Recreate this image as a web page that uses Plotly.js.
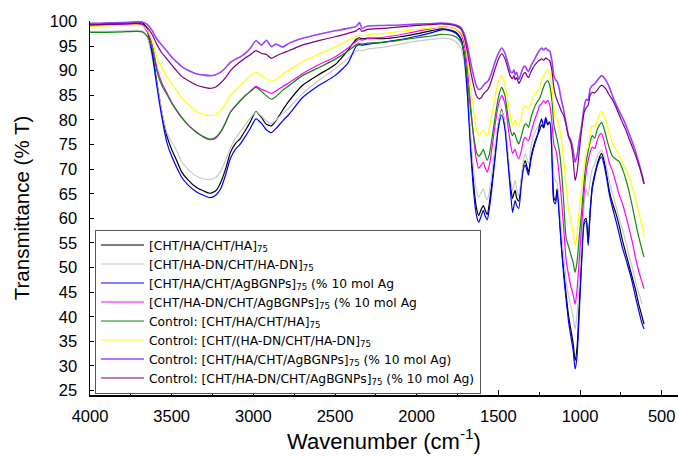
<!DOCTYPE html>
<html>
<head>
<meta charset="utf-8">
<script src="https://cdn.plot.ly/plotly-3.0.1.min.js"></script>
<style>html,body{margin:0;padding:0;background:#fff;}#chart{width:678px;height:456px;}</style>
</head>
<body>
<div id="chart"></div>
<script>
const wavenumber = [4000,3900,3800,3720,3680,3650,3620,3590,3560,3530,3500,3470,3440,3400,3350,3300,3266,3230,3200,3170,3140,3110,3080,3050,3020,2984,2950,2920,2890,2860,2820,2780,2700,2600,2500,2420,2370,2350,2335,2300,2200,2100,2000,1900,1850,1800,1760,1730,1710,1690,1670,1650,1635,1620,1605,1592,1580,1568,1555,1540,1520,1500,1480,1460,1440,1425,1413,1405,1397,1388,1375,1360,1345,1335,1325,1315,1300,1280,1260,1248,1235,1222,1210,1198,1185,1172,1160,1150,1140,1128,1115,1100,1085,1070,1055,1042,1030,1018,1005,990,975,962,950,938,925,910,895,880,868,855,840,820,800,780,760,740,720,700,680,660,640,620,608];

const chtHa = [99.6,99.6,99.7,99.9,99.8,98.5,94.0,87.5,81.5,76.8,74.0,71.8,69.5,67.8,66.3,65.5,65.1,65.6,67.3,70.0,73.4,75.2,76.2,77.8,79.5,81.7,80.5,79.1,78.8,79.9,82.0,83.9,87.0,89.2,91.2,94.2,96.4,96.7,96.5,96.6,96.5,96.9,97.5,98.2,98.5,98.3,97.8,96.6,93.8,86.5,75.5,66.5,62.3,60.6,61.8,62.6,61.6,60.8,63.0,67.0,73.0,79.0,82.1,79.0,72.0,66.5,64.0,65.0,65.7,64.2,63.5,67.5,71.0,71.7,70.5,69.4,72.5,75.1,77.0,77.8,79.0,78.4,80.0,79.0,79.6,73.5,64.2,63.6,66.0,61.5,55.0,49.5,44.5,40.2,37.2,34.6,31.1,33.8,42.0,52.0,59.5,60.0,55.1,61.5,66.5,69.0,71.0,72.5,73.2,72.0,69.5,65.5,63.0,61.0,58.5,55.5,53.0,50.5,48.0,45.5,42.5,40.0,38.5];

const chtHaDn = [98.0,98.0,98.1,98.2,98.1,96.8,92.8,87.2,81.8,77.5,75.5,73.8,71.6,70.0,68.6,68.0,67.9,68.3,69.6,71.8,74.3,76.2,77.6,79.0,80.3,81.6,80.8,79.8,79.3,80.0,81.3,82.5,85.3,88.0,90.4,92.5,94.0,94.2,94.1,94.4,94.8,95.4,96.0,96.4,96.6,96.5,95.9,94.6,92.0,85.5,76.8,69.5,65.8,64.3,65.3,66.0,64.5,63.8,65.5,69.0,74.5,79.5,81.9,79.5,73.0,68.0,65.6,66.6,67.7,66.0,64.6,68.0,72.0,73.1,72.0,71.1,74.5,77.2,78.5,79.0,79.8,79.5,80.3,79.8,79.6,75.0,68.8,67.7,67.2,63.0,58.0,52.5,47.5,44.2,42.0,40.0,37.5,40.5,47.0,55.0,62.5,66.0,64.5,67.5,70.0,71.0,72.5,73.5,73.8,73.0,71.0,67.5,65.0,62.5,60.0,57.8,55.2,52.5,50.0,47.2,44.8,42.6];

const chtHaAg = [99.3,99.3,99.4,99.5,99.4,98.0,93.5,86.7,80.5,75.5,72.6,70.4,68.4,66.8,65.4,64.6,64.2,64.7,66.0,68.8,72.2,74.0,75.1,76.6,78.2,80.2,79.3,78.0,77.4,78.3,79.8,81.2,84.5,87.0,89.0,91.6,95.0,95.3,95.2,95.4,95.8,96.3,97.0,97.8,98.3,98.2,97.6,96.4,93.2,85.5,74.0,65.0,60.8,59.2,60.5,61.6,60.4,59.7,62.0,66.0,72.2,78.2,81.0,78.2,71.0,65.2,61.2,62.5,63.6,62.6,62.0,66.5,70.2,70.8,69.8,68.8,72.0,74.8,76.8,78.9,80.2,78.5,80.5,79.2,79.5,73.0,63.3,63.0,65.8,61.0,54.5,48.5,43.5,39.0,35.8,33.2,29.4,32.0,40.5,51.0,58.8,59.5,54.5,61.0,66.0,68.5,70.6,72.0,72.5,71.2,68.8,64.8,62.0,59.5,56.8,54.0,51.8,49.5,47.0,44.0,41.2,38.6,37.5];

const chtHaDnAg = [99.1,99.2,99.3,99.4,99.2,98.0,95.5,90.5,87.5,85.5,83.6,82.0,80.6,79.0,77.6,76.4,76.0,76.3,77.5,79.5,81.6,82.8,83.9,84.9,85.8,86.8,86.2,85.8,85.4,85.9,86.8,87.6,89.4,91.2,92.8,94.6,96.0,96.4,96.2,96.5,96.8,97.3,98.0,98.6,98.9,98.8,98.4,97.5,95.6,90.5,83.0,76.0,72.0,70.2,70.8,71.4,70.2,69.4,70.8,74.0,79.0,83.0,85.0,83.4,78.5,75.0,73.2,73.6,74.0,72.9,72.1,73.6,76.0,76.5,76.0,75.8,77.5,79.8,81.6,82.9,83.3,83.9,83.4,83.9,83.0,79.5,75.0,74.1,72.5,69.0,64.5,58.0,51.5,48.5,46.0,44.5,42.5,45.5,51.5,58.5,65.0,69.5,71.8,73.4,74.5,74.2,75.8,77.0,77.2,76.0,74.0,71.2,69.5,67.2,64.8,63.0,60.6,58.0,55.2,52.0,49.2,47.0,45.7];

const ctrlChtHa = [97.8,97.8,97.9,98.0,97.9,97.0,94.8,89.8,87.0,85.2,83.4,81.9,80.5,79.0,77.5,76.5,76.1,76.5,77.6,79.4,81.6,82.8,83.9,84.9,85.7,86.6,85.8,84.9,84.2,84.8,86.0,87.0,89.0,90.6,92.3,94.0,95.3,95.5,95.4,95.6,95.8,96.2,96.7,97.1,97.4,97.3,96.9,95.9,93.8,88.5,82.0,76.5,73.6,72.6,73.2,74.0,72.8,71.8,73.0,76.0,80.5,84.5,86.6,85.0,80.5,77.8,76.8,77.4,77.0,76.0,75.1,76.6,78.5,79.2,79.0,78.5,80.5,82.5,83.8,84.3,85.5,86.8,87.6,88.0,87.0,84.0,79.0,77.5,76.0,74.0,70.2,63.5,56.0,54.3,52.5,51.0,49.0,51.2,56.0,61.5,67.5,71.4,73.6,75.5,76.8,76.3,78.0,79.0,79.5,78.5,76.6,74.2,72.6,72.0,71.5,70.0,68.0,65.5,62.5,59.2,56.2,53.6,52.1];

const ctrlChtHaDn = [99.0,99.1,99.2,99.3,99.2,98.3,96.2,92.8,90.5,88.8,87.3,86.0,84.5,83.2,81.7,81.1,80.9,81.1,81.9,83.3,85.0,86.0,87.0,88.0,88.9,89.7,89.0,88.3,87.8,88.3,89.3,90.1,91.8,93.4,94.8,96.2,97.0,97.2,97.1,97.3,97.6,98.0,98.4,98.7,98.9,98.8,98.4,97.8,96.5,93.0,87.0,81.5,78.2,76.9,77.4,77.9,77.2,76.9,78.3,81.0,84.8,87.8,89.0,87.4,83.5,80.6,79.0,79.4,80.0,79.2,78.7,80.5,82.5,82.9,82.5,82.3,83.5,85.0,86.0,86.6,88.0,89.0,89.7,90.3,89.6,87.0,82.5,80.5,80.2,78.8,76.2,72.0,66.5,61.8,59.4,57.0,54.5,56.8,61.5,66.0,70.5,73.6,74.5,77.2,78.9,78.6,80.0,81.2,81.8,81.0,79.6,77.2,75.2,74.0,72.8,71.4,70.0,68.4,66.4,64.0,61.2,58.3,56.2];

const ctrlChtHaAg = [99.6,99.7,99.8,99.9,99.9,99.4,98.2,96.4,95.2,94.0,92.8,91.8,90.9,90.1,89.4,89.1,89.0,89.2,89.7,90.6,91.7,92.3,92.8,93.5,94.5,96.1,95.2,96.2,94.9,95.4,94.8,95.6,96.6,97.4,98.1,98.6,99.0,99.8,98.6,99.1,99.2,99.3,99.5,99.6,99.7,99.6,99.3,98.8,97.6,95.2,91.8,88.8,87.0,86.2,86.4,87.0,87.5,87.7,88.4,89.7,91.8,93.5,94.6,93.6,91.4,89.8,89.6,90.2,89.2,89.7,88.2,89.5,90.8,90.9,90.2,89.8,91.0,92.2,93.5,94.1,94.6,94.2,94.6,94.2,94.0,92.0,89.0,88.2,87.8,86.5,84.2,82.0,79.2,76.8,75.8,73.8,71.4,72.8,75.8,78.8,82.5,84.2,84.0,86.3,87.0,87.3,88.0,88.6,89.0,88.7,88.0,86.6,84.8,83.2,81.8,80.5,79.0,77.3,75.5,73.6,71.3,68.8,67.0];

const ctrlChtHaDnAg = [99.3,99.4,99.5,99.6,99.5,98.8,97.4,95.3,93.6,92.4,91.2,90.0,88.9,88.0,87.1,86.6,86.4,86.7,87.5,88.6,90.0,91.0,91.8,92.6,93.2,94.1,93.5,93.3,92.5,93.0,93.6,94.1,95.2,96.1,96.9,97.6,98.1,98.6,98.0,98.4,98.6,98.9,99.2,99.4,99.5,99.4,99.1,98.5,97.0,94.0,90.0,86.8,85.0,84.3,84.5,85.2,85.7,86.0,86.8,88.2,90.4,92.3,93.4,92.5,90.3,88.8,88.4,89.0,88.2,88.6,87.4,88.3,89.4,89.6,89.0,88.6,89.8,91.0,91.8,92.1,92.4,92.1,92.6,92.3,92.0,90.0,86.5,85.0,84.0,83.0,81.8,80.9,79.0,76.5,75.2,72.0,67.7,69.5,73.5,78.0,81.5,82.5,83.0,85.0,85.6,85.5,86.0,86.7,87.0,86.8,86.2,85.0,84.0,82.6,81.0,79.5,78.0,76.2,74.5,72.8,70.8,68.6,67.0];

const seriesNames = [
  "[CHT/HA/CHT/HA]<sub>75</sub>",
  "[CHT/HA-DN/CHT/HA-DN]<sub>75</sub>",
  "[CHT/HA/CHT/AgBGNPs]<sub>75</sub> (% 10 mol Ag",
  "[CHT/HA-DN/CHT/AgBGNPs]<sub>75</sub> (% 10 mol Ag",
  "Control: [CHT/HA/CHT/HA]<sub>75</sub>",
  "Control: [CHT/(HA-DN/CHT/HA-DN]<sub>75</sub>",
  "Control: [CHT/HA/CHT/AgBGNPs]<sub>75</sub> (% 10 mol Ag)",
  "Control: [CHT/HA-DN/CHT/AgBGNPs]<sub>75</sub> (% 10 mol Ag)"
];
const seriesValues = [chtHa, chtHaDn, chtHaAg, chtHaDnAg, ctrlChtHa, ctrlChtHaDn, ctrlChtHaAg, ctrlChtHaDnAg];
const seriesColors = ["#000000", "#c8c8c8", "#0000ff", "#ff00ff", "#118a11", "#ffff00", "#9b40ff", "#800080"];
const seriesWidths = [1.2, 1.2, 1.2, 1.2, 1.2, 1.2, 1.6, 1.2];

const yTicks = [25,30,35,40,45,50,55,60,65,70,75,80,85,90,95,100];
const xTicks = [4000,3500,3000,2500,2000,1500,1000,500];

const FONT = "Arial, 'Liberation Sans', Helvetica, sans-serif";
const LEGEND_FONT = "'DejaVu Sans', Verdana, sans-serif";

const traces = seriesValues.map((vals, i) => ({
  x: wavenumber,
  y: vals,
  type: "scatter",
  mode: "lines",
  name: seriesNames[i],
  line: {color: seriesColors[i], width: seriesWidths[i], shape: "spline", smoothing: 0.6}
}));

const layout = {
  width: 678,
  height: 456,
  margin: {l: 90, r: 0, t: 21, b: 61, pad: 0},
  paper_bgcolor: "#ffffff",
  plot_bgcolor: "#ffffff",
  font: {family: FONT, color: "#000000"},
  showlegend: true,
  legend: {
    x: 0.0085, y: 0.004, xanchor: "left", yanchor: "bottom",
    bgcolor: "#ffffff", bordercolor: "#555555", borderwidth: 1,
    font: {family: LEGEND_FONT, size: 12.3, color: "#000000"},
    tracegroupgap: 0, itemwidth: 43
  },
  xaxis: {
    range: [4000, 400],
    tickvals: xTicks,
    ticktext: xTicks.map(String),
    ticks: "inside", ticklen: 5, tickwidth: 1, tickcolor: "#000",
    minor: {dtick: 250, tick0: 0, ticks: "inside", ticklen: 3, tickcolor: "#000"},
    showline: true, linecolor: "#000", linewidth: 1.5,
    showgrid: false, zeroline: false,
    tickfont: {family: FONT, size: 16.5, color: "#000"},
    ticklabelstandoff: 6,
    title: {text: "Wavenumber (cm<sup>-1</sup>)", font: {family: FONT, size: 22, color: "#000"}, standoff: 8}
  },
  yaxis: {
    range: [24.1, 100.1],
    tickvals: yTicks,
    ticktext: yTicks.map(String),
    ticks: "inside", ticklen: 4, tickwidth: 1, tickcolor: "#000",
    showline: true, linecolor: "#000", linewidth: 1.5,
    showgrid: false, zeroline: false,
    tickfont: {family: FONT, size: 16.5, color: "#000"},
    ticklabelstandoff: 8,
    title: {text: "Transmittance (% T)", font: {family: FONT, size: 20.5, color: "#000"}, standoff: 14}
  }
};

Plotly.newPlot("chart", traces, layout, {displayModeBar: false, staticPlot: true}).then(function (gd) {
  const ZWSP = "\u200b";
  const SVGNS = "http://www.w3.org/2000/svg";
  // Tidy the sub/superscript markup: explicit pixel sizes, and no empty
  // zero-width helper spans (their baseline reset moves onto the next text).
  gd.querySelectorAll("text").forEach(function (txt) {
    Array.from(txt.querySelectorAll("tspan")).forEach(function (t) {
      const px = parseFloat(window.getComputedStyle(t).fontSize);
      if (t.textContent === ZWSP) {
        const dy = t.getAttribute("dy");
        const next = t.nextSibling;
        if (next && next.nodeType === 3 && next.textContent.replace(ZWSP, "").length) {
          const ns = document.createElementNS(SVGNS, "tspan");
          if (dy) ns.setAttribute("dy", dy);
          ns.textContent = next.textContent;
          txt.replaceChild(ns, next);
        }
        t.remove();
      } else if (px) {
        t.style.fontSize = px.toFixed(2) + "px";
        if (t.textContent.indexOf(ZWSP) >= 0) t.textContent = t.textContent.split(ZWSP).join("");
      }
    });
    Array.from(txt.childNodes).forEach(function (n) {
      if (n.nodeType === 3 && n.textContent.indexOf(ZWSP) >= 0) {
        const rest = n.textContent.split(ZWSP).join("");
        if (rest.length) n.textContent = rest; else txt.removeChild(n);
      }
    });
  });
});
</script>
</body>
</html>
